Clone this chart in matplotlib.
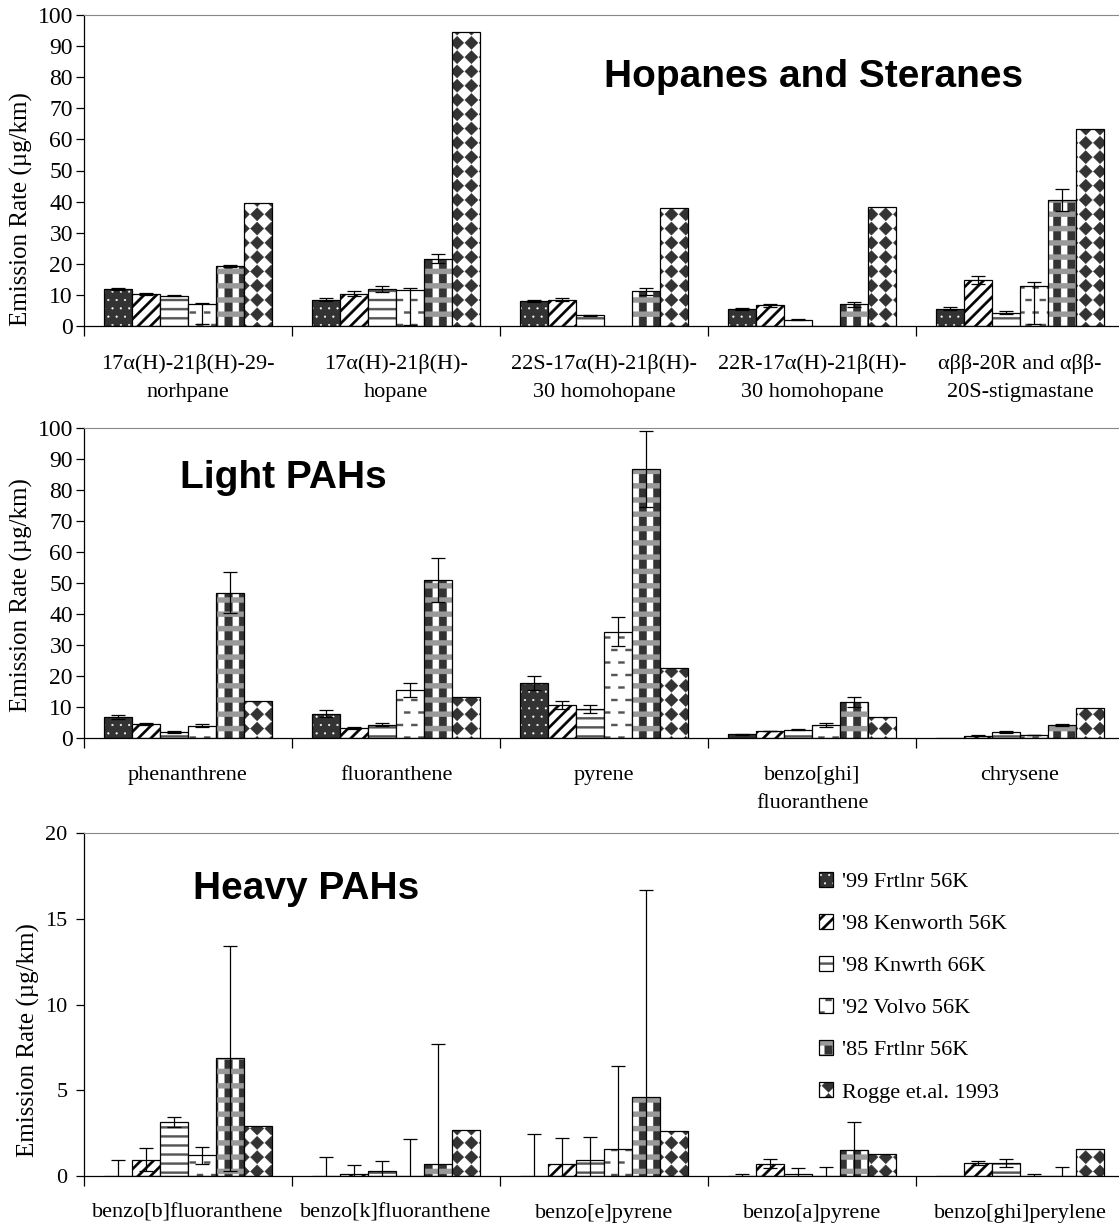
import warnings
import numpy as np
import matplotlib
matplotlib.use('Agg')
import matplotlib.pyplot as plt
from matplotlib import hatch as mhatch
from matplotlib.path import Path
from matplotlib.patches import Patch
from matplotlib.legend_handler import HandlerTuple

# letters below are our own texture keys, not stock hatch characters
warnings.filterwarnings('ignore', category=matplotlib.MatplotlibDeprecationWarning)

plt.rcParams['font.family'] = ['Liberation Serif', 'DejaVu Serif']
plt.rcParams['hatch.linewidth'] = 0.3

# ---- data ----
series = ["'99 Frtlnr 56K", "'98 Kenworth 56K", "'98 Knwrth 66K",
          "'92 Volvo 56K", "'85 Frtlnr 56K", "Rogge et.al. 1993"]

hop_labels = ['17α(H)-21β(H)-29-\nnorhpane', '17α(H)-21β(H)-\nhopane',
              '22S-17α(H)-21β(H)-\n30 homohopane', '22R-17α(H)-21β(H)-\n30 homohopane',
              'αββ-20R and αββ-\n20S-stigmastane']
# rows follow `series`, columns follow the compounds
hop_rate = [[12.0, 8.5, 7.9, 5.6, 5.6],
            [10.4, 10.4, 8.5, 6.6, 14.9],
            [9.7, 12.0, 3.4, 2.0, 4.3],
            [7.0, 11.7, 0.0, 0.0, 13.0],
            [19.4, 21.7, 11.2, 7.0, 40.5],
            [39.4, 94.4, 37.9, 38.2, 63.5]]
hop_err_lo = [[0.3, 0.4, 0.3, 0.3, 0.4],
              [0.3, 0.8, 0.5, 0.4, 1.3],
              [0.2, 1.0, 0.2, 0.2, 0.4],
              [6.25, 11.5, 0.0, 0.0, 12.25],
              [0.3, 1.5, 1.1, 0.8, 3.5],
              [0.0, 0.0, 0.0, 0.0, 0.0]]
hop_err_hi = [[0.3, 0.4, 0.3, 0.3, 0.4],
              [0.3, 0.8, 0.5, 0.4, 1.3],
              [0.2, 1.0, 0.2, 0.2, 0.4],
              [0.5, 0.6, 0.0, 0.0, 1.2],
              [0.3, 1.5, 1.1, 0.8, 3.5],
              [0.0, 0.0, 0.0, 0.0, 0.0]]

light_labels = ['phenanthrene', 'fluoranthene', 'pyrene',
                'benzo[ghi]\nfluoranthene', 'chrysene']
light_rate = [[6.8, 7.85, 17.7, 1.2, 0.0],
              [4.5, 3.3, 10.5, 2.25, 0.75],
              [1.9, 4.3, 9.35, 2.7, 1.9],
              [3.9, 15.5, 34.3, 4.3, 1.0],
              [46.8, 51.0, 86.8, 11.6, 4.2],
              [12.0, 13.2, 22.6, 6.8, 9.7]]
light_err = [[0.6, 1.1, 2.3, 0.1, 0.0],
             [0.4, 0.3, 1.3, 0.1, 0.1],
             [0.2, 0.4, 1.4, 0.2, 0.2],
             [0.5, 2.3, 4.6, 0.7, 0.1],
             [6.6, 7.2, 12.2, 1.5, 0.4],
             [0.0, 0.0, 0.0, 0.0, 0.0]]

heavy_labels = ['benzo[b]fluoranthene', 'benzo[k]fluoranthene', 'benzo[e]pyrene',
                'benzo[a]pyrene', 'benzo[ghi]perylene']
heavy_rate = [[0.0, 0.0, 0.0, 0.0, 0.0],
              [0.96, 0.14, 0.72, 0.72, 0.78],
              [3.16, 0.30, 0.96, 0.14, 0.76],
              [1.2, 0.0, 1.6, 0.0, 0.0],
              [6.86, 0.72, 4.59, 1.52, 0.0],
              [2.9, 2.68, 2.6, 1.31, 1.58]]
heavy_err = [[0.96, 1.1, 2.46, 0.14, 0.0],
             [0.65, 0.5, 1.47, 0.26, 0.12],
             [0.28, 0.6, 1.33, 0.33, 0.26],
             [0.52, 2.13, 4.8, 0.55, 0.14],
             [6.55, 7.0, 12.1, 1.64, 0.55],
             [0.0, 0.0, 0.0, 0.0, 0.0]]


# ---- fill textures (unit cell = 1 inch) ----
def _rect(x0, y0, w, h):
    return [(x0, y0), (x0 + w, y0), (x0 + w, y0 + h), (x0, y0 + h)]


def _diamonds():
    polys, n, r = [], 7, 0.066
    for j in range(n + 1):
        for k in range(n + 1):
            x, y = k / n, j / n
            polys.append([(x - r, y), (x, y - r), (x + r, y), (x, y + r)])
    return polys


def _diagonals():
    n, w = 8, 0.032
    return [[(i / n, 0), (i / n + w, 0), (i / n + w + 1, 1), (i / n + 1, 1)]
            for i in range(-n - 1, n + 1)]


def _hlines():
    n, h = 11, 0.02
    return [_rect(-0.01, j / n - h / 2, 1.02, h) for j in range(n + 1)]


def _dashes():
    polys = []
    for j in range(9):
        shift = 0.5 if j % 2 else 0.0
        for k in range(-1, 8):
            polys.append(_rect((k + shift) / 7 - 0.03, j / 8 - 0.01, 0.06, 0.02))
    return polys


def _vstripes():
    n, w = 7, 0.075
    return [_rect(i / n - w / 2, -0.01, w, 1.02) for i in range(n + 1)]


def _bands():
    n, h = 7, 0.05
    return [_rect(-0.01, j / n - h / 2, 1.02, h) for j in range(n + 1)]


TEXTURES = {'D': _diamonds, 'N': _diagonals, 'H': _hlines,
            'B': _dashes, 'V': _vstripes, 'G': _bands}


class TextureHatch(mhatch.HatchPatternBase):
    def __init__(self, hatch, density):
        self.polys = [p for key, make in TEXTURES.items() if key in hatch for p in make()]
        self.num_vertices = sum(len(p) + 1 for p in self.polys)

    def set_vertices_and_codes(self, vertices, codes):
        i = 0
        for p in self.polys:
            m = len(p)
            vertices[i:i + m] = p
            vertices[i + m] = p[0]
            codes[i] = Path.MOVETO
            codes[i + 1:i + m] = Path.LINETO
            codes[i + m] = Path.CLOSEPOLY
            i += m + 1


mhatch._hatch_types.append(TextureHatch)

# (face, hatch, hatch colour) layers for each series
styles = [[('#333333', '..', 'white')],
          [('white', 'N', 'black')],
          [('white', 'H', '#555555')],
          [('white', 'B', '#555555')],
          [('white', 'V', '#333333'), ('none', 'G', '#999999')],
          [('white', 'D', '#333333')]]

W, H = 1119, 1228
fig = plt.figure(figsize=(W / 100, H / 100), dpi=100)


def px_axes(left, top, right, bottom):
    return fig.add_axes([left / W, 1 - bottom / H, (right - left) / W, (bottom - top) / H])


bar_w = 0.134
margin = (1 - 6 * bar_w) / 2


def draw_panel(ax, labels, rate, err_lo, err_hi, ymax, ystep, ysize, ypad):
    groups = np.arange(len(labels))
    for s in range(len(series)):
        x = groups + margin + bar_w * (s + 0.5)
        h = np.array(rate[s])
        for face, hatch, hc in styles[s]:
            ax.bar(x, h, bar_w, color=face, hatch=hatch, edgecolor=hc, linewidth=0)
        ax.bar(x, h, bar_w, fill=False, edgecolor='black', linewidth=0.9)
        lo, hi = np.array(err_lo[s]), np.array(err_hi[s])
        keep = (lo > 0) | (hi > 0)
        if keep.any():
            ax.errorbar(x[keep], h[keep], yerr=[lo[keep], hi[keep]], fmt='none',
                        ecolor='black', elinewidth=0.9, capsize=5, capthick=0.9)
    ax.set_xlim(0, len(labels))
    ax.set_ylim(0, ymax)
    ax.set_yticks(np.arange(0, ymax + 0.1, ystep))
    ax.set_xticks(np.arange(len(labels) + 1))
    ax.set_xticklabels([])
    ax.set_xticks(groups + 0.5, labels, minor=True, linespacing=1.65)
    ax.tick_params(axis='x', which='major', direction='out', length=7, width=0.9)
    ax.tick_params(axis='x', which='minor', length=0, pad=20, labelsize=16)
    ax.tick_params(axis='y', direction='out', length=6, width=0.9, pad=ypad,
                   labelsize=ysize)
    ax.spines['right'].set_visible(False)
    ax.spines['top'].set_color('#888888')
    ax.spines['left'].set_linewidth(0.9)
    ax.spines['bottom'].set_linewidth(0.9)


ax1 = px_axes(84, 15, 1124, 326)
draw_panel(ax1, hop_labels, hop_rate, hop_err_lo, hop_err_hi, 100, 10, 17, 2)
ax2 = px_axes(84, 428, 1124, 738)
draw_panel(ax2, light_labels, light_rate, light_err, light_err, 100, 10, 17, 2)
ax3 = px_axes(84, 833, 1124, 1176)
draw_panel(ax3, heavy_labels, heavy_rate, heavy_err, heavy_err, 20, 5, 16, 6)

ylab = 'Emission Rate (µg/km)'
for xc, yc in [(21, 209), (21, 595), (28, 1040)]:
    fig.text(xc / W, 1 - yc / H, ylab, rotation=90, ha='center', va='center', fontsize=18)

title_font = dict(family='Liberation Sans', weight='bold', fontsize=28,
                  ha='center', va='baseline')
fig.text(814 / W, 1 - 87 / H, 'Hopanes and Steranes', **title_font)
fig.text(283 / W, 1 - 488 / H, 'Light PAHs', **title_font)
fig.text(306 / W, 1 - 899 / H, 'Heavy PAHs', **title_font)

handles = []
for s in range(len(series)):
    layers = [Patch(facecolor=f, hatch=hp, edgecolor=hc, linewidth=0) for f, hp, hc in styles[s]]
    layers.append(Patch(fill=False, edgecolor='black', linewidth=0.9))
    handles.append(tuple(layers))
ax3.legend(handles, series, handler_map={tuple: HandlerTuple(ndivide=1, pad=0)},
           loc='upper left', bbox_to_anchor=(819 / W, 1 - 872 / H),
           bbox_transform=fig.transFigure, frameon=False, fontsize=16,
           handlelength=0.63, handleheight=0.63, handletextpad=0.4,
           labelspacing=0.99, borderpad=0, borderaxespad=0)

fig.savefig('out.png', dpi=100)
